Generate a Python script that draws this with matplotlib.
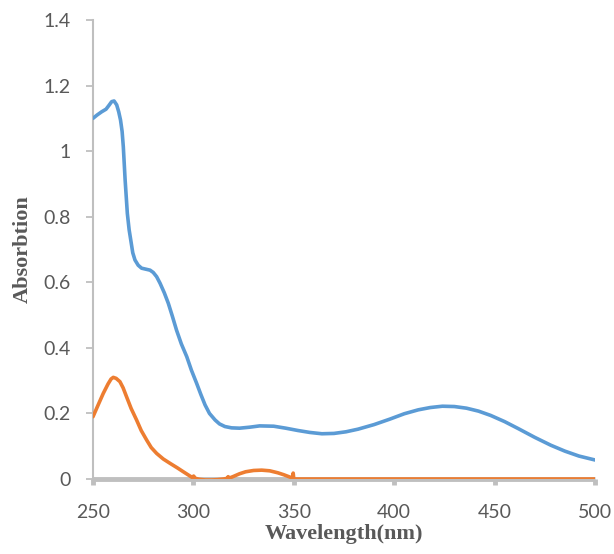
import numpy as np
import matplotlib
matplotlib.use('Agg')
import matplotlib.pyplot as plt
from matplotlib.ticker import FuncFormatter

# 吸收光谱数据
wl_blue = [250, 252, 254.3, 256.5, 258, 259.3, 260.5, 261.8, 262.8, 263.7, 264.5,
           265.1, 266, 267.1, 268, 268.8, 269.8, 270.9, 272.5, 274.2, 276.3, 278.4,
           280, 281.7, 283.4, 285.5, 287.5, 289.5, 291.6, 294, 296.7, 299, 301.6,
           303.7, 305.8, 308, 310.8, 313, 315.7, 319, 323, 328, 333, 340, 346, 352,
           358, 364, 370, 376, 382, 390, 398, 405, 412, 418, 424, 430, 436, 442,
           448, 455, 462, 470, 478, 485, 492, 500]
abs_blue = [1.10, 1.11, 1.12, 1.128, 1.14, 1.151, 1.153, 1.141, 1.12, 1.095, 1.06,
            1.013, 0.912, 0.81, 0.76, 0.729, 0.69, 0.668, 0.652, 0.643, 0.64, 0.637,
            0.63, 0.617, 0.597, 0.568, 0.536, 0.497, 0.454, 0.412, 0.373, 0.332,
            0.292, 0.258, 0.226, 0.2, 0.18, 0.168, 0.16, 0.156, 0.155, 0.158, 0.162,
            0.161, 0.155, 0.148, 0.142, 0.138, 0.139, 0.144, 0.152, 0.166, 0.183,
            0.199, 0.211, 0.218, 0.222, 0.221, 0.216, 0.207, 0.194, 0.175, 0.153,
            0.127, 0.103, 0.085, 0.07, 0.058]

wl_orange = [250, 252.5, 255.1, 257.5, 259, 260.1, 261.5, 263.4, 265, 266.7, 269,
             271.7, 274, 276.7, 279, 281.7, 285, 288.3, 292, 295, 298.3, 299.6,
             300.1, 301, 303, 306, 309, 312, 315, 316.8, 317.3, 318, 320, 323, 326,
             330, 334, 338, 342, 345, 348, 349.4, 349.7, 350, 355, 400, 450, 500]
abs_orange = [0.19, 0.225, 0.261, 0.29, 0.305, 0.31, 0.307, 0.297, 0.278, 0.251,
              0.215, 0.18, 0.148, 0.119, 0.096, 0.078, 0.061, 0.048, 0.034, 0.022,
              0.009, 0.004, 0.009, 0.002, -0.001, -0.003, -0.003, -0.002, 0.0,
              0.002, 0.007, 0.003, 0.008, 0.016, 0.022, 0.026, 0.027, 0.025, 0.019,
              0.013, 0.006, 0.003, 0.018, 0.0, 0.0, 0.0, 0.0, 0.0]

xticks = [250, 300, 350, 400, 450, 500]
yticks = [0, 0.2, 0.4, 0.6, 0.8, 1.0, 1.2, 1.4]

grey = '#bfbfbf'
txt = '#595959'

fig = plt.figure(figsize=(6.14, 5.54), dpi=100)
ax = fig.add_axes([93/614, 75/554, 502/614, 459/554])

ax.plot(wl_blue, abs_blue, color='#5b9bd5', lw=2.6, solid_capstyle='round',
        solid_joinstyle='round', zorder=3)
ax.plot(wl_orange, abs_orange, color='#ed7d31', lw=2.6, solid_capstyle='round',
        solid_joinstyle='round', zorder=4)

ax.set_xlim(250, 500)
ax.set_ylim(0, 1.4)
ax.set_xticks(xticks)
ax.set_yticks(yticks)
ax.yaxis.set_major_formatter(FuncFormatter(lambda v, p: '%g' % v))

for s in ['top', 'right']:
    ax.spines[s].set_visible(False)
ax.spines['left'].set_color(grey)
ax.spines['left'].set_linewidth(1.5)
ax.spines['bottom'].set_color(grey)
ax.spines['bottom'].set_linewidth(3.5)
ax.spines['bottom'].set_zorder(2)
ax.spines['bottom'].set_capstyle('butt')

ax.tick_params(axis='y', direction='out', length=5, width=1.3, color=grey,
               labelcolor=txt, labelsize=14, pad=11)
ax.tick_params(axis='x', direction='out', length=4, width=3.5, color=grey,
               labelcolor=txt, labelsize=14, pad=14)
for lab in ax.get_xticklabels() + ax.get_yticklabels():
    lab.set_family('Lato')

ax.set_xlabel('Wavelength(nm)', family='Liberation Serif', fontweight='bold',
              fontsize=16, color=txt, labelpad=2)
ax.set_ylabel('Absorbtion', family='Liberation Serif', fontweight='bold',
              fontsize=16, color=txt, labelpad=8)

fig.savefig('out.png', dpi=100)
